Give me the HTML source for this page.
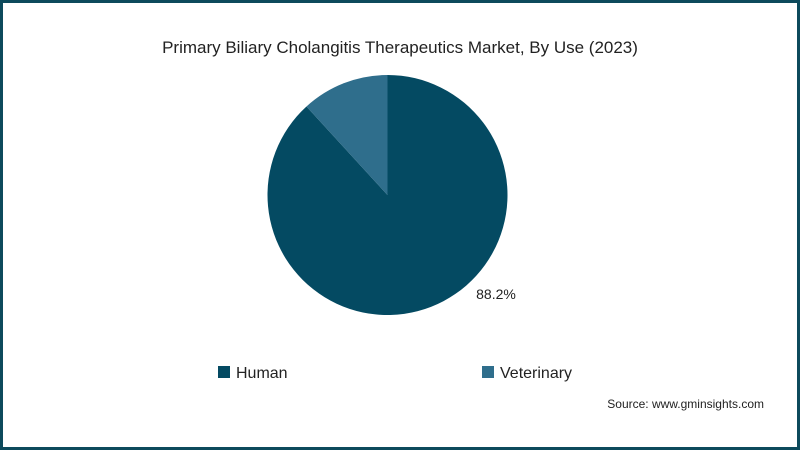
<!DOCTYPE html>
<html><head><meta charset="utf-8"><style>
html,body{margin:0;padding:0;background:#fff}
#frame{position:absolute;left:0;top:0;width:800px;height:450px;box-sizing:border-box;border:3px solid #0d4a5c;background:#fff;font-family:"Liberation Sans",sans-serif}
</style></head><body>
<div id="frame">
<svg width="800" height="450" style="position:absolute;left:-3px;top:-3px">
<text x="400" y="53" text-anchor="middle" font-size="17" fill="#222" font-family="Liberation Sans, sans-serif">Primary Biliary Cholangitis Therapeutics Market, By Use (2023)</text>
<g id="pie"></g>
<rect x="218" y="366" width="12" height="12" fill="#044a62"/>
<text x="236" y="378" font-size="16" fill="#222">Human</text>
<rect x="482" y="366" width="12" height="12" fill="#2f6e8c"/>
<text x="500" y="378" font-size="16" fill="#222">Veterinary</text>
<text x="764" y="408" text-anchor="end" font-size="12" fill="#222">Source: www.gminsights.com</text>
</svg>
</div>
<script>
const categories=["Human","Veterinary"];
const values=[88.2,11.8];
const labels=["88.2%",""];
const colors=["#044a62","#2f6e8c"];
const cx=387.5,cy=195,r=120;
const g=document.getElementById('pie');
const ns="http://www.w3.org/2000/svg";
const total=values.reduce((a,b)=>a+b,0);
let a0=0;
values.forEach((v,i)=>{
  const a1=a0+v/total*2*Math.PI;
  const x0=cx+r*Math.sin(a0),y0=cy-r*Math.cos(a0);
  const x1=cx+r*Math.sin(a1),y1=cy-r*Math.cos(a1);
  const large=(a1-a0)>Math.PI?1:0;
  const p=document.createElementNS(ns,'path');
  p.setAttribute('d',`M${cx},${cy}L${x0},${y0}A${r},${r} 0 ${large} 1 ${x1},${y1}Z`);
  p.setAttribute('fill',colors[i]);
  
  
  g.appendChild(p);
  if(labels[i]){
    const t=document.createElementNS(ns,'text');
    const am=a0+(a1-a0)*0.5;
    t.setAttribute('x',cx+r*0.95*Math.sin(a0+ (a1-a0)*0.42)+0);
    t.setAttribute('x',496);t.setAttribute('y',299);
    t.setAttribute('text-anchor','middle');
    t.setAttribute('font-size','14');t.setAttribute('fill','#222');
    t.setAttribute('font-family','Liberation Sans, sans-serif');
    t.textContent=labels[i];
    
    
    g.appendChild(t);
  }
  a0=a1;
});
</script>
</body></html>
